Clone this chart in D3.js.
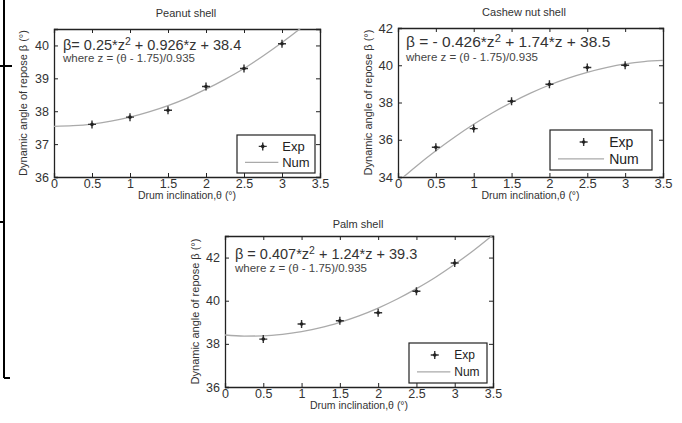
<!DOCTYPE html>
<html>
<head>
<meta charset="utf-8">
<script src="https://cdn.jsdelivr.net/npm/d3@7"></script>
<style>
  body { margin: 0; background: #fff; }
  svg { display: block; font-family: "Liberation Sans", Arial, sans-serif; }
  .tick text { fill: #333; }
</style>
</head>
<body>
<svg id="chart" width="682" height="423"></svg>
<script>
// values
var xTicks = [0, 0.5, 1, 1.5, 2, 2.5, 3, 3.5];
var expTheta = [0.5, 1, 1.5, 2, 2.5, 3];
var peanutExp = [37.6, 37.82, 38.03, 38.75, 39.3, 40.05];
var cashewExp = [35.6, 36.6, 38.07, 38.98, 39.88, 40.0];
var palmExp = [38.22, 38.92, 39.07, 39.44, 40.44, 41.75];

var curveTheta = [0, 0.25, 0.5, 0.75, 1, 1.25, 1.5, 1.75, 2, 2.25, 2.5, 2.75, 3, 3.25, 3.5];
var peanutNum = [37.54, 37.56, 37.61, 37.7, 37.82, 37.98, 38.17, 38.4, 38.67, 38.97, 39.3, 39.68, 40.09, 40.53, 41.01];
var cashewNum = [33.75, 34.61, 35.41, 36.15, 36.83, 37.45, 38.0, 38.5, 38.94, 39.31, 39.62, 39.87, 40.07, 40.2, 40.26];
var palmNum = [38.41, 38.36, 38.37, 38.44, 38.57, 38.75, 39.0, 39.3, 39.66, 40.08, 40.56, 41.09, 41.69, 42.34, 43.05];

var peanutYTicks = [36, 37, 38, 39, 40];
var cashewYTicks = [34, 36, 38, 40, 42];
var palmYTicks = [36, 38, 40, 42];

var panels = [
  {
    id: 'peanut', title: 'Peanut shell',
    box: {l: 54, t: 29, r: 320, b: 177}, yDomain: [36, 40.5], yTicks: peanutYTicks,
    exp: peanutExp, num: peanutNum,
    eq: ['\u03b2= 0.25*z', ' + 0.926*z + 38.4'], eqX: 63, eqY: 50, eqSize: 14.5, eq2Y: 62,
    titleX: 186, titleY: 17, yLabX: 23, tickSize: 12.5,
    legend: {x: 237, y: 135, w: 78, h: 38, fs: 13}
  },
  {
    id: 'cashew', title: 'Cashew nut shell',
    box: {l: 398, t: 28, r: 663, b: 177}, yDomain: [34, 42], yTicks: cashewYTicks,
    exp: cashewExp, num: cashewNum,
    eq: ['\u03b2 = - 0.426*z', ' + 1.74*z + 38.5'], eqX: 406, eqY: 47, eqSize: 15.5, eq2Y: 61,
    titleX: 524, titleY: 16, yLabX: 368, tickSize: 13,
    legend: {x: 550, y: 130, w: 102, h: 40, fs: 14}
  },
  {
    id: 'palm', title: 'Palm shell',
    box: {l: 225, t: 236, r: 493, b: 387}, yDomain: [36, 43], yTicks: palmYTicks,
    exp: palmExp, num: palmNum,
    eq: ['\u03b2 = 0.407*z', ' + 1.24*z + 39.3'], eqX: 235, eqY: 259, eqSize: 14.5, eq2Y: 272,
    titleX: 358, titleY: 228, yLabX: 195, tickSize: 12.5,
    legend: {x: 409, y: 343, w: 78, h: 40, fs: 12}
  }
];

var svg = d3.select('#chart');

// frame line at the left edge of the page
svg.append('path')
  .attr('d', 'M4,0V378M0,66H12M0,222H5M4,378H10')
  .attr('stroke', '#000').attr('stroke-width', 2).attr('fill', 'none');

function starMarker(g, x, y) {
  g.append('path')
    .attr('d', 'M' + (x - 4) + ',' + y + 'H' + (x + 4) + 'M' + x + ',' + (y - 4) + 'V' + (y + 4))
    .attr('stroke', '#333').attr('stroke-width', 1.4);
  g.append('circle').attr('cx', x).attr('cy', y).attr('r', 1.8).attr('fill', '#222');
}

panels.forEach(function(p) {
  var b = p.box;
  var x = d3.scaleLinear().domain([0, 3.5]).range([b.l, b.r]);
  var y = d3.scaleLinear().domain(p.yDomain).range([b.b, b.t]);
  var g = svg.append('g').attr('class', 'panel-' + p.id);

  g.append('clipPath').attr('id', 'clip-' + p.id)
    .append('rect').attr('x', b.l).attr('y', b.t).attr('width', b.r - b.l).attr('height', b.b - b.t);

  // axes, ticks inward on all four sides
  var bottom = g.append('g').attr('transform', 'translate(0,' + b.b + ')')
    .call(d3.axisBottom(x).tickValues(xTicks).tickSize(-4).tickPadding(2).tickFormat(d3.format('')));
  var top = g.append('g').attr('transform', 'translate(0,' + b.t + ')')
    .call(d3.axisTop(x).tickValues(xTicks).tickSize(-4).tickFormat(''));
  var left = g.append('g').attr('transform', 'translate(' + b.l + ',0)')
    .call(d3.axisLeft(y).tickValues(p.yTicks).tickSize(-4).tickPadding(5).tickFormat(d3.format('')));
  var right = g.append('g').attr('transform', 'translate(' + b.r + ',0)')
    .call(d3.axisRight(y).tickValues(p.yTicks).tickSize(-4).tickFormat(''));
  [bottom, top, left, right].forEach(function(a) {
    a.selectAll('.domain').attr('stroke', '#222').attr('stroke-width', 1.3);
    a.selectAll('.tick line').attr('stroke', '#222');
    a.selectAll('text').attr('font-size', p.tickSize).attr('font-family', null);
  });

  // fitted curve
  var line = d3.line()
    .x(function(d, i) { return x(curveTheta[i]); })
    .y(function(d) { return y(d); })
    .curve(d3.curveMonotoneX);
  g.append('path').datum(p.num)
    .attr('clip-path', 'url(#clip-' + p.id + ')')
    .attr('d', line)
    .attr('fill', 'none').attr('stroke', '#aaa').attr('stroke-width', 1.3);

  // experiment points
  p.exp.forEach(function(v, i) {
    starMarker(g, x(expTheta[i]), y(v));
  });

  // equation
  var eq = g.append('text').attr('x', p.eqX).attr('y', p.eqY)
    .attr('font-size', p.eqSize).attr('fill', '#333');
  eq.append('tspan').text(p.eq[0]);
  eq.append('tspan').attr('dy', -5).attr('font-size', p.eqSize * 0.72).text('2');
  eq.append('tspan').attr('dy', 5).text(p.eq[1]);
  g.append('text').attr('x', p.eqX).attr('y', p.eq2Y)
    .attr('font-size', 11.5).attr('fill', '#444')
    .text('where z = (\u03b8 - 1.75)/0.935');

  // titles
  g.append('text').attr('x', p.titleX).attr('y', p.titleY)
    .attr('text-anchor', 'middle').attr('font-size', 11).attr('fill', '#333')
    .text(p.title);
  g.append('text').attr('x', (b.l + b.r) / 2).attr('y', b.b + 22)
    .attr('text-anchor', 'middle').attr('font-size', 10.5).attr('fill', '#333')
    .text('Drum inclination,\u03b8 (\u00b0)');
  g.append('text')
    .attr('transform', 'translate(' + p.yLabX + ',' + ((b.t + b.b) / 2) + ') rotate(-90)')
    .attr('text-anchor', 'middle').attr('dy', '0.35em').attr('font-size', 11).attr('fill', '#333')
    .text('Dynamic angle of repose \u03b2 (\u00b0)');

  // legend
  var L = p.legend;
  var lg = g.append('g');
  lg.append('rect').attr('x', L.x).attr('y', L.y).attr('width', L.w).attr('height', L.h)
    .attr('fill', '#fff').attr('stroke', '#222').attr('stroke-width', 1.2);
  var r1 = L.y + L.h * 0.3, r2 = L.y + L.h * 0.72;
  starMarker(lg, L.x + L.w * 0.33, r1);
  lg.append('line').attr('x1', L.x + 8).attr('x2', L.x + L.w * 0.53)
    .attr('y1', r2).attr('y2', r2).attr('stroke', '#aaa').attr('stroke-width', 1.3);
  lg.append('text').attr('x', L.x + L.w * 0.58).attr('y', r1).attr('dy', '0.35em')
    .attr('font-size', L.fs).attr('fill', '#222').text('Exp');
  lg.append('text').attr('x', L.x + L.w * 0.58).attr('y', r2).attr('dy', '0.35em')
    .attr('font-size', L.fs).attr('fill', '#222').text('Num');
});
</script>
</body>
</html>
